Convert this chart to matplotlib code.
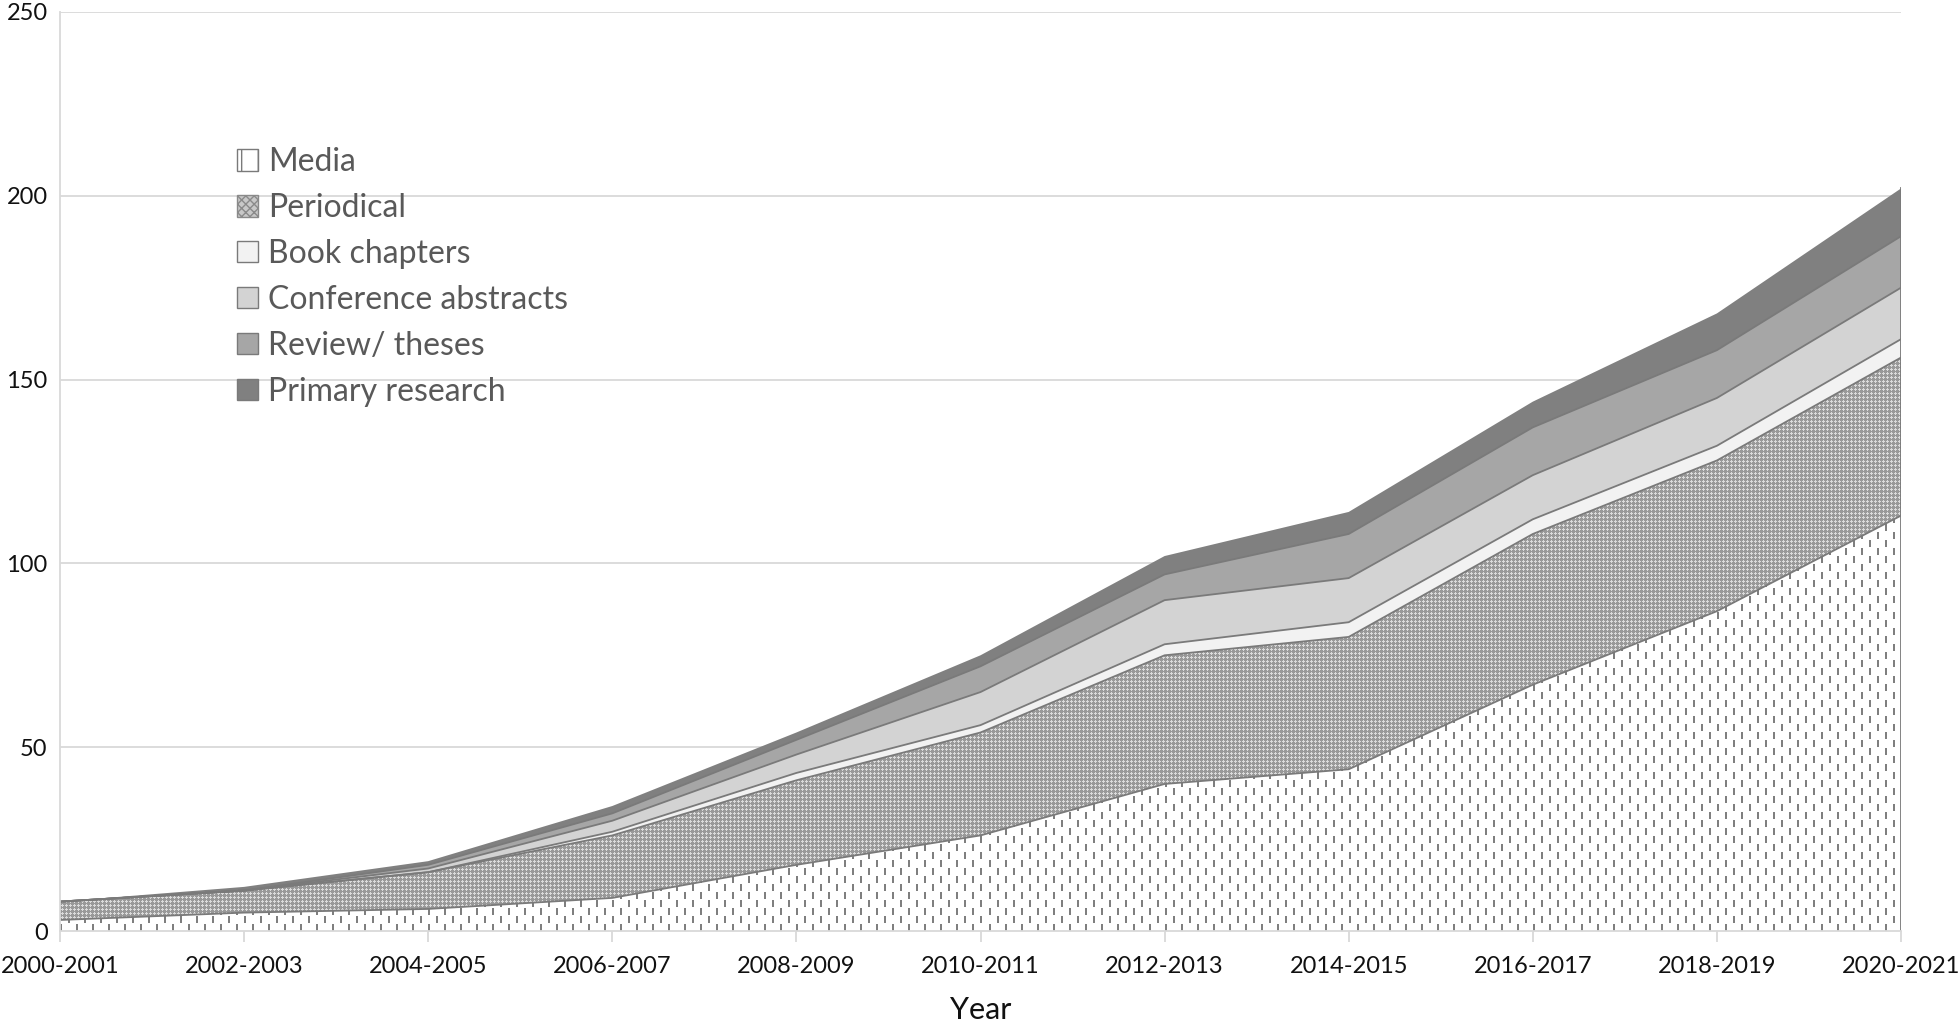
import numpy as np
import matplotlib
matplotlib.use("Agg")
import matplotlib.pyplot as plt
from matplotlib.patches import Patch

# ---------------- data ----------------
years = ["2000-2001", "2002-2003", "2004-2005", "2006-2007", "2008-2009",
         "2010-2011", "2012-2013", "2014-2015", "2016-2017", "2018-2019",
         "2020-2021"]
media = [3, 5, 6, 9, 18, 26, 40, 44, 67, 87, 113]
periodical = [5, 6, 10, 17, 23, 28, 35, 36, 41, 41, 43]
book_chapters = [0, 0, 0, 1, 2, 2, 3, 4, 4, 4, 5]
conference_abstracts = [0, 0, 1, 3, 5, 9, 12, 12, 12, 13, 14]
review_theses = [0, 0, 1, 2, 4, 7, 7, 12, 13, 13, 14]
primary_research = [0, 1, 1, 2, 2, 3, 5, 6, 7, 10, 13]
labels = ["Media", "Periodical", "Book chapters", "Conference abstracts",
          "Review/ theses", "Primary research"]
yticks = [0, 50, 100, 150, 200, 250]

# ---------------- style ----------------
plt.rcParams["font.family"] = ["Lato", "DejaVu Sans"]
colors = ["#ffffff", "#a8a8a8", "#f2f2f2", "#d3d3d3", "#a6a6a6", "#808080"]
edge_col = "#7a7a7a"
grid_col = "#d9d9d9"

FW, FH, DPI = 1960, 1032, 100
fig = plt.figure(figsize=(FW / DPI, FH / DPI), dpi=DPI)
L, B, Wp, Hp = 60, 101, 1841, 919
ax = fig.add_axes([L / FW, B / FH, Wp / FW, Hp / FH])

x = np.arange(len(years))
layers = np.array([media, periodical, book_chapters, conference_abstracts,
                   review_theses, primary_research], dtype=float)
cum = np.cumsum(layers, axis=0)
bottoms = np.vstack([np.zeros(len(x)), cum[:-1]])

polys = []
for i, col in enumerate(colors):
    p = ax.fill_between(x, bottoms[i], cum[i], facecolor=col,
                        edgecolor="none", linewidth=0, zorder=2)
    polys.append(p)

xmin, xmax, ymin, ymax = 0, len(years) - 1, 0, 250

# textures (pixel patterns) clipped to the Media and Periodical areas
yy, xx = np.mgrid[0:Hp, 0:Wp]
tex_media = np.ones((Hp, Wp, 3))
colidx = xx // 8
mask = (xx % 8 < 2) & (((yy + (colidx % 2) * 8) % 16) < 7)
tex_media[mask] = 0.50

tex_per = np.full((Hp, Wp, 3), 0.60)
mx, my = xx % 4, yy % 4
light = ((mx == 2) & (my <= 2)) | ((my == 1) & (mx >= 1))
tex_per[light] = 0.86

for tex, poly in [(tex_media, polys[0]), (tex_per, polys[1])]:
    im = ax.imshow(tex, extent=(xmin, xmax, ymin, ymax), aspect="auto",
                   interpolation="nearest", origin="upper", zorder=2.5)
    im.set_clip_path(poly.get_paths()[0], transform=ax.transData)

# boundary lines
for i in range(5):
    ax.plot(x, cum[i], color=edge_col, lw=1.3, zorder=3)
ax.plot([x[-1], x[-1]], [0, cum[-1][-1]], color=edge_col, lw=1.3, zorder=3)

ax.set_xlim(xmin, xmax)
ax.set_ylim(ymin, ymax)
ax.set_xticks(x)
ax.set_xticklabels(years)
ax.set_yticks(yticks)
ax.yaxis.grid(True, color=grid_col, lw=1.3)
ax.set_axisbelow(True)
for s in ["top", "right"]:
    ax.spines[s].set_visible(False)
for s in ["left", "bottom"]:
    ax.spines[s].set_color(grid_col)
    ax.spines[s].set_linewidth(1.3)
    ax.spines[s].set_zorder(4)
ax.tick_params(axis="x", length=8, width=1.3, color=grid_col, pad=10,
               labelsize=17, labelcolor="#111111")
ax.tick_params(axis="y", length=0, pad=9, labelsize=17, labelcolor="#111111")
ax.set_xlabel("Year", fontsize=22, color="#111111", labelpad=14)

# legend
handles = [
    Patch(facecolor="white", edgecolor=edge_col, hatch="|", lw=1),
    Patch(facecolor="#c8c8c8", edgecolor="#8a8a8a", hatch="xxxx", lw=1),
    Patch(facecolor=colors[2], edgecolor=edge_col, lw=1),
    Patch(facecolor=colors[3], edgecolor=edge_col, lw=1),
    Patch(facecolor=colors[4], edgecolor=edge_col, lw=1),
    Patch(facecolor=colors[5], edgecolor=edge_col, lw=1),
]
leg = fig.legend(handles, labels, loc="upper left",
                 bbox_to_anchor=(237 / FW, 1 - 147 / FH), frameon=False,
                 fontsize=23, handlelength=0.66, handleheight=0.66,
                 handletextpad=0.32, labelspacing=0.5, borderpad=0,
                 borderaxespad=0)
for t in leg.get_texts():
    t.set_color("#595959")

fig.savefig("out.png", dpi=DPI)
